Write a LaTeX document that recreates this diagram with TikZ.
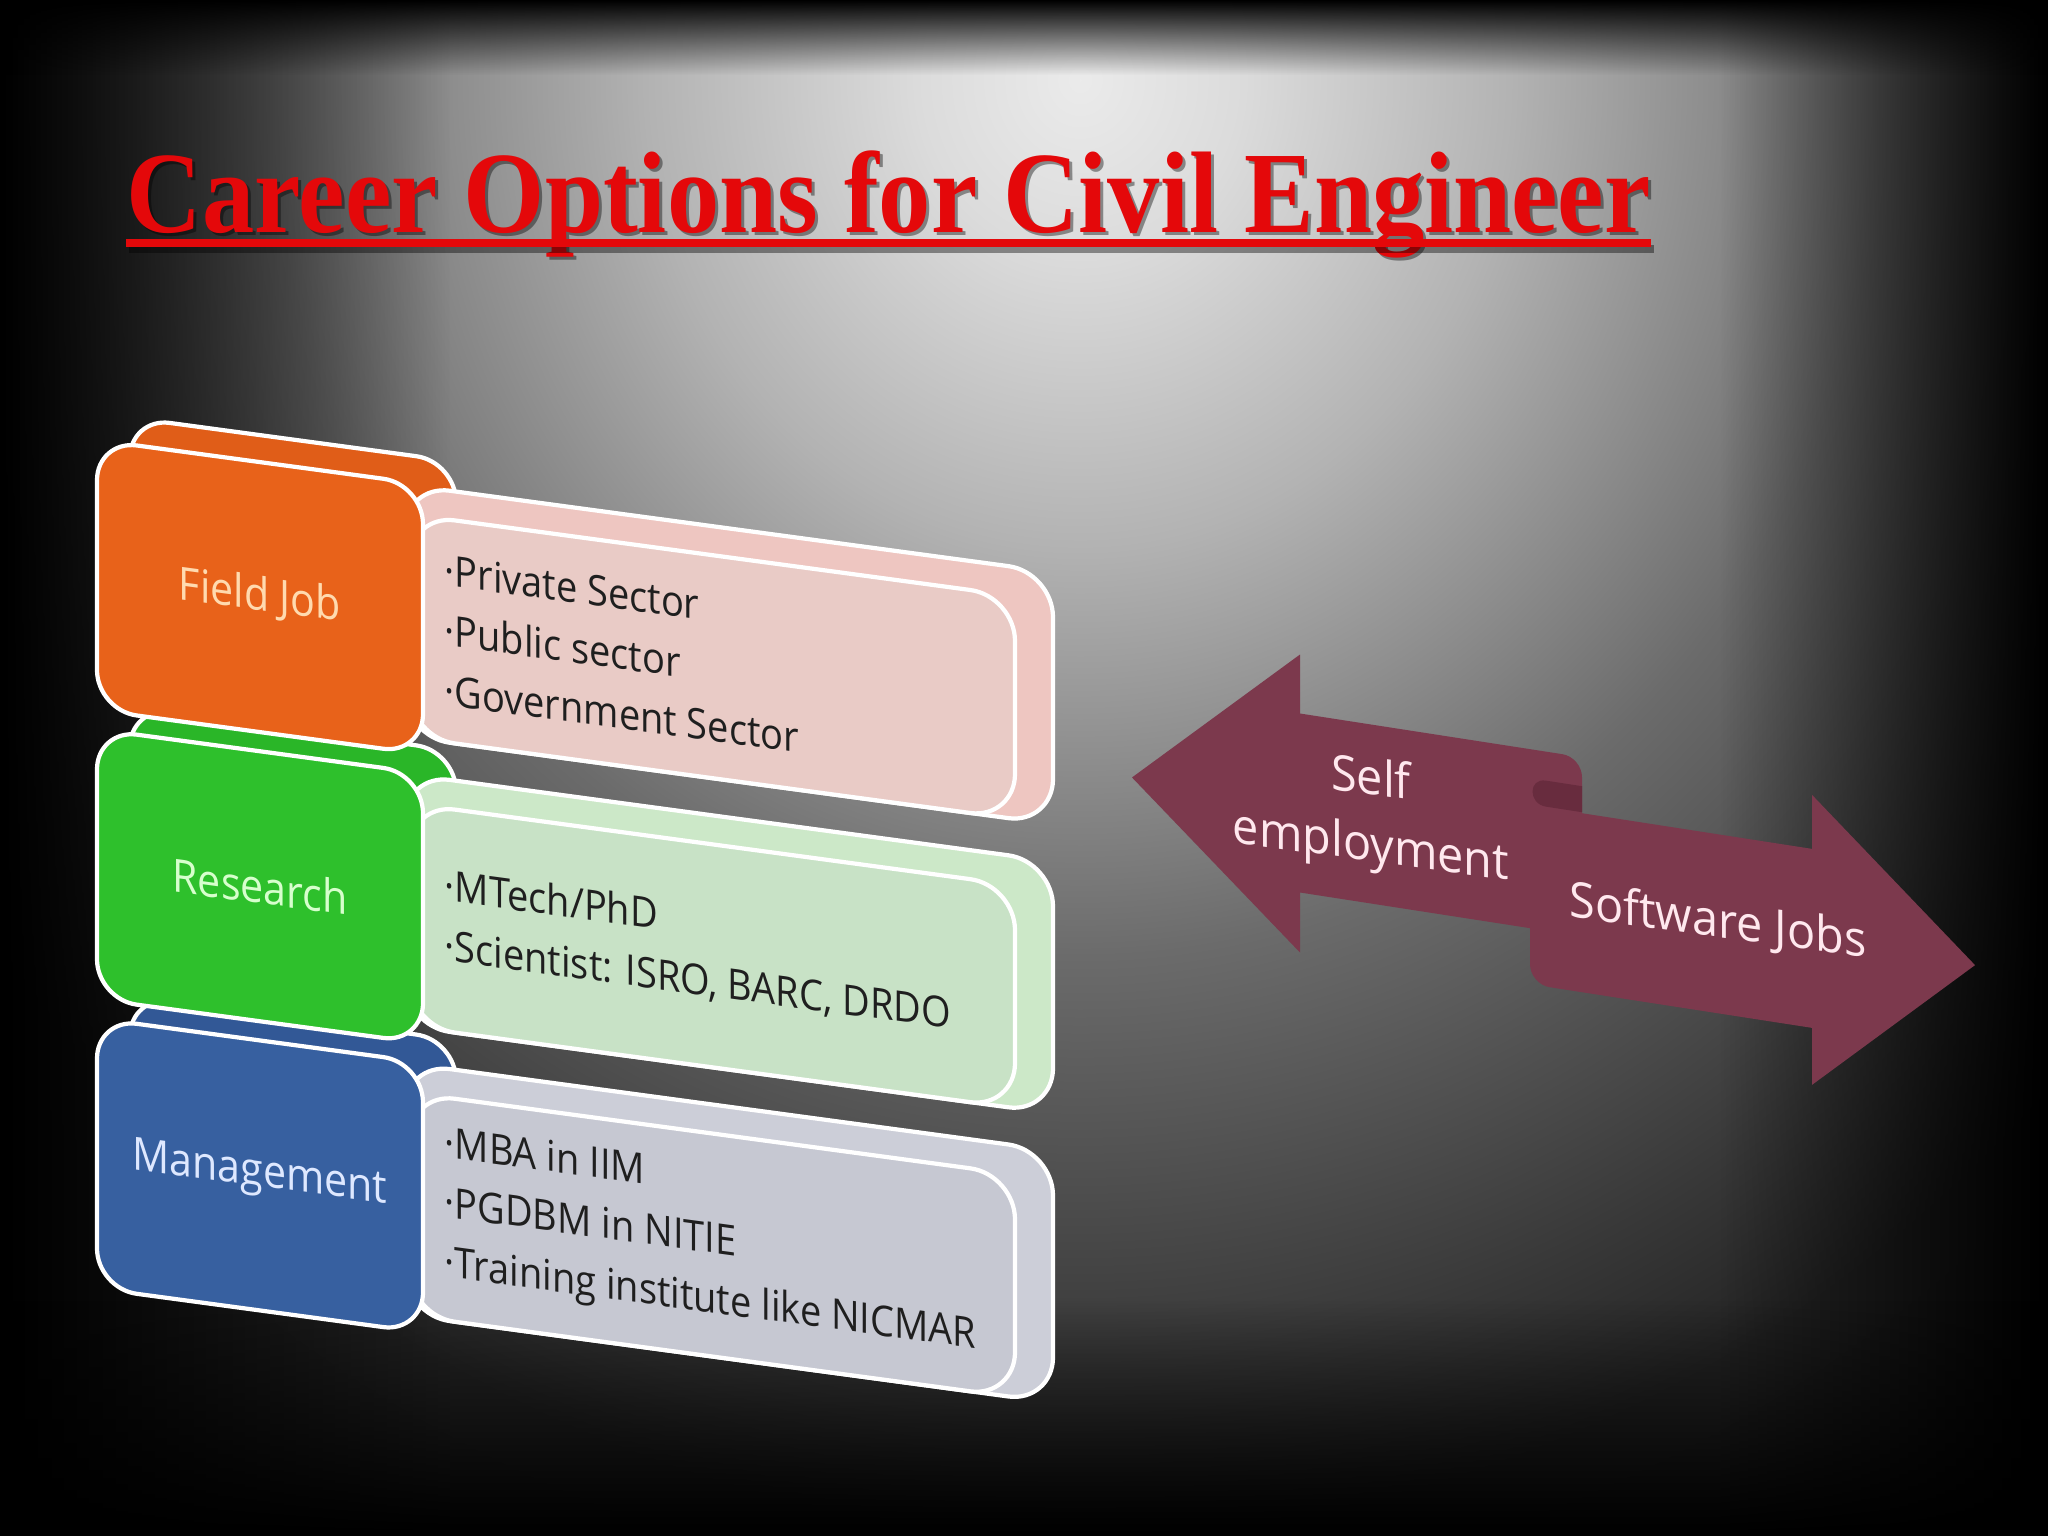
\documentclass[tikz,border=0pt]{standalone}
\usepackage{fontspec}
\setmainfont{Open Sans}
\newfontfamily\titlefont{Liberation Serif}
\usetikzlibrary{fadings}

\definecolor{titlered}{RGB}{228,8,10}
\definecolor{fieldorange}{RGB}{232,98,26}
\definecolor{fieldback}{RGB}{224,93,24}
\definecolor{fieldbar}{RGB}{238,198,193}
\definecolor{fieldface}{RGB}{233,203,198}
\definecolor{fieldtext}{RGB}{255,218,175}
\definecolor{researchgreen}{RGB}{46,192,44}
\definecolor{researchback}{RGB}{42,182,40}
\definecolor{researchbar}{RGB}{204,232,200}
\definecolor{researchface}{RGB}{200,226,198}
\definecolor{researchtext}{RGB}{215,255,205}
\definecolor{mgmtblue}{RGB}{55,96,160}
\definecolor{mgmtback}{RGB}{50,88,150}
\definecolor{mgmtbar}{RGB}{204,206,216}
\definecolor{mgmtface}{RGB}{198,200,210}
\definecolor{mgmttext}{RGB}{222,232,255}
\definecolor{arrowred}{RGB}{124,57,77}
\definecolor{folddark}{RGB}{104,44,62}
\definecolor{arrowtext}{RGB}{255,232,238}

\pgfdeclareradialshading{spotlight}{\pgfpoint{0bp}{0bp}}{%
  color(0bp)=(black!8); color(3bp)=(black!14); color(8bp)=(black!30);
  color(15bp)=(black!58); color(22bp)=(black!78); color(25bp)=(black!86);
  color(50bp)=(black!88)}

\tikzfading[name=fadeleft, left color=transparent!0, right color=transparent!100]
\tikzfading[name=faderight, left color=transparent!100, right color=transparent!0]
\tikzfading[name=fadetop, top color=transparent!0, bottom color=transparent!100]
\tikzfading[name=fadebottom, top color=transparent!100, bottom color=transparent!0]

\tikzset{
  tabface/.style={draw=white, line width=1.2pt, rounded corners=0.4cm},
  barface/.style={draw=white, line width=1.2pt, rounded corners=0.45cm},
  tablabel/.style={font=\fontsize{13}{15}\selectfont, xscale=0.9, inner sep=0pt},
  itemlist/.style={font=\fontsize{12}{17}\selectfont, xscale=0.9, align=left,
    anchor=west, inner sep=0pt, text=black!88},
  arrowlabel/.style={font=\fontsize{14}{19}\selectfont, text=arrowtext,
    align=center, xscale=0.95, yslant=-0.13, inner sep=0pt},
  titletext/.style={font=\titlefont\bfseries\fontsize{33}{36}\selectfont,
    xscale=0.9, anchor=base west, inner sep=0pt}
}

\begin{document}
\begin{tikzpicture}[x=0.01cm, y=-0.01cm]
\useasboundingbox (0,0) rectangle (2048,1536);
\clip (0,0) rectangle (2048,1536);

\fill [black] (0,0) rectangle (2048,1536);
\shade [shading=spotlight] (-270,-1380) rectangle (2430,1540);
\fill [black, path fading=fadeleft] (0,0) rectangle (450,1536);
\fill [black, path fading=faderight] (1720,0) rectangle (2048,1536);
\fill [black, path fading=fadetop] (0,0) rectangle (2048,75);
\fill [black, path fading=fadebottom] (0,1300) rectangle (2048,1536);

\node (titleshadow) [titletext, text=black, opacity=0.4] at (129,235) {Career Options for Civil Engineer};
\node (title) [titletext, text=titlered] at (126,232) {Career Options for Civil Engineer};
\draw [black, opacity=0.4, line width=2.3pt] ([yshift=-0.14cm]titleshadow.base west) -- ([yshift=-0.14cm]titleshadow.base east);
\draw [titlered, line width=2.3pt] ([yshift=-0.11cm]title.base west) -- ([yshift=-0.11cm]title.base east);

\begin{scope}[yslant=-0.135, transform shape]

\begin{scope}[yshift=-5.78cm]
\draw [tabface, fill=mgmtback] (130,400) rectangle (456,670);
\draw [barface, fill=mgmtbar] (405,430) rectangle (1053,682);
\draw [barface, fill=mgmtface] (410,459) rectangle (1015,682);
\draw [tabface, fill=mgmtblue] (97,427) rectangle (423,697);
\node (management) [tablabel, text=mgmttext] at (260,562) {Management};
\node (mgmtlist) [itemlist] at (444,568) {·MBA in IIM\\·PGDBM in NITIE\\·Training institute like NICMAR};
\end{scope}

\begin{scope}[yshift=-2.89cm]
\draw [tabface, fill=researchback] (130,400) rectangle (456,670);
\draw [barface, fill=researchbar] (405,430) rectangle (1053,682);
\draw [barface, fill=researchface] (410,459) rectangle (1015,682);
\draw [tabface, fill=researchgreen] (97,427) rectangle (423,697);
\node (research) [tablabel, text=researchtext] at (260,562) {Research};
\node (researchlist) [itemlist] at (444,568) {·MTech/PhD\\·Scientist: ISRO, BARC, DRDO};
\end{scope}

\draw [tabface, fill=fieldback] (130,400) rectangle (456,670);
\draw [barface, fill=fieldbar] (405,430) rectangle (1053,682);
\draw [barface, fill=fieldface] (410,459) rectangle (1015,682);
\draw [tabface, fill=fieldorange] (97,427) rectangle (423,697);
\node (fieldjob) [tablabel, text=fieldtext] at (260,562) {Field Job};
\node (fieldlist) [itemlist] at (444,570) {·Private Sector\\·Public sector\\·Government Sector};

\end{scope}

\begin{scope}[yslant=-0.155]
\fill [arrowred] (1530,568) -- (1812,568) -- (1812,514) -- (1975,659) -- (1812,804) -- (1812,747) [rounded corners=0.2cm] -- (1530,747) -- (1530,640) [sharp corners] -- cycle;
\fill [arrowred] (1132,602) -- (1300,453) -- (1300,512) [rounded corners=0.2cm] -- (1582,512) -- (1582,600) [sharp corners] -- (1582,691) -- (1300,691) -- (1300,751) -- cycle;
\fill [folddark] (1582,541) -- (1546,541) .. controls (1528,541) and (1528,567) .. (1546,567) -- (1582,567) -- cycle;
\end{scope}

\node (selfemp) [arrowlabel] at (1371,815) {Self\\employment};
\node (software) [arrowlabel] at (1718,923) {Software Jobs};
\end{tikzpicture}
\end{document}
